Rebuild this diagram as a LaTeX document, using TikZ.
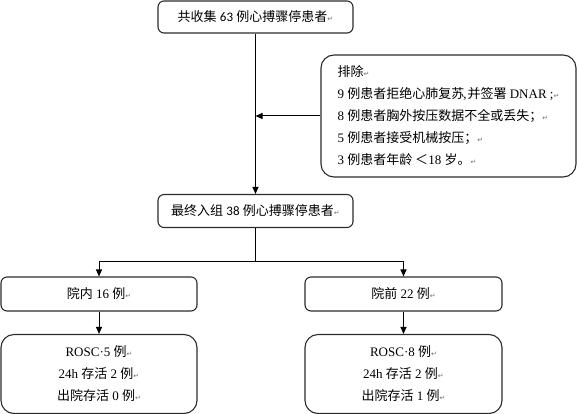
\documentclass[tikz,border=0pt]{standalone}
\usepackage{fontspec}
\setmainfont{Liberation Serif}
\newfontfamily\cjk{Noto Sans CJK SC}
\newfontfamily\numfont{Carlito}
\newfontfamily\markfont{DejaVu Sans}
\usetikzlibrary{arrows.meta}
\definecolor{edge}{RGB}{40,44,48}
\newcommand{\zh}[1]{{\cjk #1}}
\newcommand{\pmark}{{\markfont\fontsize{7}{7}\selectfont\color{black!55}↵}}

\begin{document}
\begin{tikzpicture}[x=1pt, y=-1pt, >={Triangle[length=7pt,width=6pt]},
    box/.style={draw=edge, line width=1.1pt, rounded corners=6pt, inner sep=0pt, align=center,
        font=\fontsize{13}{22}\selectfont},
    bigbox/.style={box, rounded corners=13pt},
    link/.style={->, line width=1pt, draw=black}]
    \useasboundingbox (0,0) rectangle (579,414);
    \node[box, minimum width=195pt, minimum height=32pt] (total) at (255.5,17) {\zh{共收集} {\numfont 63} \zh{例心搏骤停患者}\pmark};
    \node[bigbox, align=left, minimum width=255pt, minimum height=122pt] (excl) at (448.5,116)
        {\zh{排除}\pmark\\
         9 \zh{例患者拒绝心肺复苏}\kern-1pt,\kern1pt\zh{并签署} DNAR ;\pmark\\
         8 \zh{例患者胸外按压数据不全或丢失；}\pmark\\
         5 \zh{例患者接受机械按压；}\pmark\\
         3 \zh{例患者年龄 ＜}18 \zh{岁。}\pmark};
    \node[box, minimum width=195pt, minimum height=33pt] (final) at (255.5,211) {\zh{最终入组} {\numfont 38} \zh{例心搏骤停患者}\pmark};
    \node[box, minimum width=196pt, minimum height=34pt] (inner) at (99,294) {\zh{院内} 16 \zh{例}\pmark};
    \node[box, minimum width=197pt, minimum height=34pt] (pre) at (403.5,294) {\zh{院前} 22 \zh{例}\pmark};
    \node[bigbox, minimum width=196pt, minimum height=79pt] (res1) at (99,374)
        {ROSC·5 \zh{例}\pmark\\ 24h \zh{存活} 2 \zh{例}\pmark\\ \zh{出院存活} 0 \zh{例}\pmark};
    \node[bigbox, minimum width=197pt, minimum height=79pt] (res2) at (403.5,374)
        {ROSC·8 \zh{例}\pmark\\ 24h \zh{存活} 2 \zh{例}\pmark\\ \zh{出院存活} 1 \zh{例}\pmark};
    \coordinate (join) at (total.south |- excl.west);
    \coordinate (split) at (255.5,262);
    % flow
    \draw[link] (total) -- (final);
    \draw[link] (excl.west) -- (join);
    \draw[line width=1pt] (final.south) -- (split);
    \draw[link] (split) -| (inner.north);
    \draw[link] (split) -| (pre.north);
    \draw[link] (inner) -- (res1);
    \draw[link] (pre) -- (res2);
\end{tikzpicture}
\end{document}
